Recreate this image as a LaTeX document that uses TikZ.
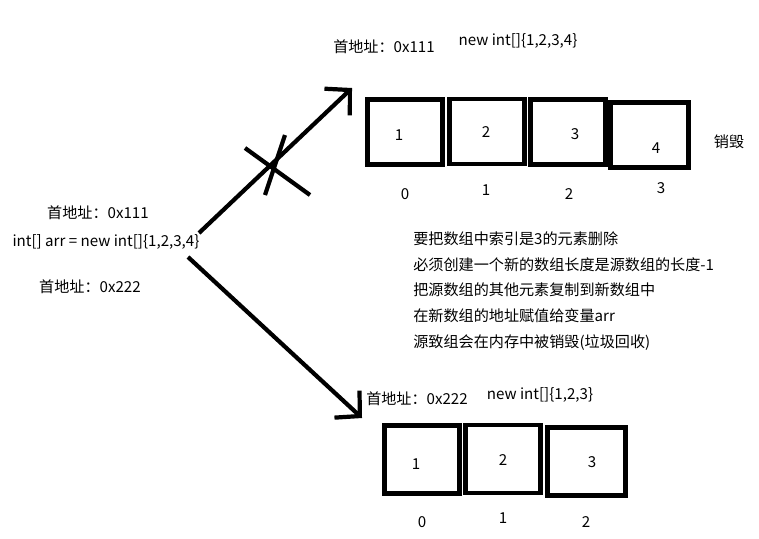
\documentclass[tikz,border=0pt]{standalone}
\usepackage{fontspec}
\setmainfont{Noto Sans CJK SC}
\usetikzlibrary{arrows.meta}
\begin{document}
\begin{tikzpicture}[x=0.02cm,y=-0.02cm,>={Straight Barb[length=10pt,width=21pt]},cell/.style={draw,line width=2.8pt,minimum width=1.5cm,minimum height=1.3cm,inner sep=0pt},txt/.style={font=\fontsize{8.6}{10}\selectfont,inner sep=0pt},stroke/.style={line width=2.4pt}]
  \useasboundingbox (0,0) rectangle (759,538);
  % left side
  \node[txt] (addr1) at (98,213) {首地址：0x111};
  \node[txt] (arr) at (106,242) {int[] arr = new int[]\{1,2,3,4\}};
  \node[txt] (addr2) at (90,287) {首地址：0x222};
  % old array
  \node[txt] (oldaddr) at (384,47) {首地址：0x111};
  \node[txt] (oldnew) at (518,41) {new int[]\{1,2,3,4\}};
  \node[cell] (t1) at (405,132) {};
  \node[cell] (t2) at (487,131.5) {};
  \node[cell] (t3) at (568,132) {};
  \node[cell,minimum width=1.56cm] (t4) at (649.5,135) {};
  \node[txt] (tv1) at (399,135) {1};
  \node[txt] (tv2) at (486,132) {2};
  \node[txt] (tv3) at (575,134) {3};
  \node[txt] (tv4) at (656,148) {4};
  \node[txt] (ti0) at (405,194) {0};
  \node[txt] (ti1) at (486,190) {1};
  \node[txt] (ti2) at (569,194) {2};
  \node[txt] (ti3) at (661,188) {3};
  \node[txt] (gone) at (729,142) {销毁};
  % new array
  \node[txt] (newaddr) at (417,399) {首地址：0x222};
  \node[txt] (newnew) at (540,395) {new int[]\{1,2,3\}};
  \node[cell,minimum height=1.36cm] (b1) at (422,459.5) {};
  \node[cell,minimum height=1.36cm] (b2) at (503,459) {};
  \node[cell,minimum width=1.56cm,minimum height=1.36cm] (b3) at (586.5,461.5) {};
  \node[txt] (bv1) at (416,464) {1};
  \node[txt] (bv2) at (503,460) {2};
  \node[txt] (bv3) at (592,462) {3};
  \node[txt] (bi0) at (422,522) {0};
  \node[txt] (bi1) at (503,518) {1};
  \node[txt] (bi2) at (586,522) {2};
  % notes
  \node[txt,font=\fontsize{8.6}{14.75}\selectfont,align=left,anchor=west] (note) at (413,291) {要把数组中索引是3的元素删除\\必须创建一个新的数组长度是源数组的长度-1\\把源数组的其他元素复制到新数组中\\在新数组的地址赋值给变量arr\\源致组会在内存中被销毁(垃圾回收)};
  % references
  \coordinate (s1) at (199,233);
  \coordinate (e1) at (352,88);
  \coordinate (s2) at (188,257);
  \coordinate (e2) at (362,418);
  \draw[stroke,->] (s1) -- (e1);
  \draw[stroke,->] (s2) -- (e2);
  \draw[stroke] (245,148) -- (310,195);
  \draw[stroke] (285,135) -- (265,195);
\end{tikzpicture}
\end{document}
